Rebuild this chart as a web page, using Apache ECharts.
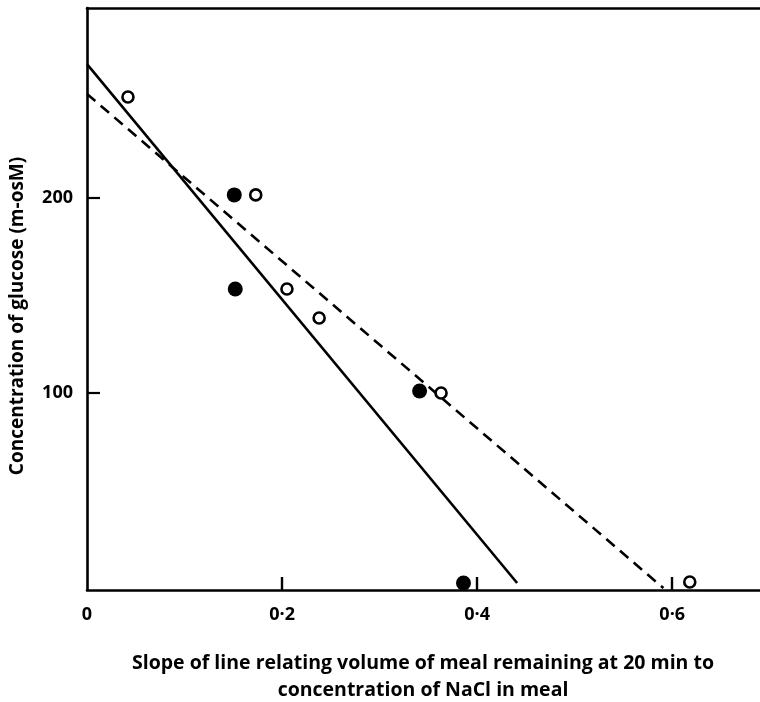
<!DOCTYPE html>
<html>
<head>
<meta charset="utf-8">
<script src="https://cdn.jsdelivr.net/npm/echarts@6/dist/echarts.min.js"></script>
<style>
html,body{margin:0;padding:0;background:#fff;}
#chart{width:760px;height:702px;}
</style>
</head>
<body>
<div id="chart"></div>
<script>
// Data
const filledPoints = [[0.151, 201.3], [0.152, 153.1], [0.341, 100.9], [0.386, 2.6]];
const openPoints = [[0.042, 251.4], [0.173, 201.3], [0.205, 153.1], [0.238, 138.3], [0.363, 99.9], [0.618, 3.1]];
const solidLine = [[0, 268.3], [0.441, 2.6]];
const dashedLine = [[0, 253], [0.591, 0]];
const xTicks = [0, 0.2, 0.4, 0.6];
const yTicks = [100, 200];
const xTitle1 = 'Slope of line relating volume of meal remaining at 20 min to';
const xTitle2 = 'concentration of NaCl in meal';
const yTitle = 'Concentration of glucose (m-osM)';

const FONT = '"Open Sans"';
const chart = echarts.init(document.getElementById('chart'));
const fmtX = v => {
  const hit = xTicks.find(t => Math.abs(t - v) < 1e-6);
  if (hit === undefined) return '';
  return hit === 0 ? '0' : String(hit).replace('.', '·');
};
const fmtY = v => yTicks.some(t => Math.abs(t - v) < 1e-6) ? String(v) : '';

chart.setOption({
  animation: false,
  backgroundColor: '#fff',
  grid: { left: 87, right: 0, top: 8, bottom: 112, containLabel: false },
  xAxis: [{
    type: 'value', min: 0, max: 0.69, interval: 0.2,
    axisLine: { show: true, onZero: false, lineStyle: { color: '#000', width: 2.6 } },
    axisTick: { show: true, inside: true, length: 13, lineStyle: { color: '#000', width: 2.4 },
      customValues: xTicks.slice(1) },
    axisLabel: { show: true, margin: 16, color: '#000', fontFamily: FONT, fontWeight: 'bold', fontSize: 18,
      formatter: fmtX, customValues: xTicks },
    splitLine: { show: false }
  }, {
    type: 'value', position: 'top', min: 0, max: 0.69,
    axisLine: { show: true, onZero: false, lineStyle: { color: '#000', width: 2.6 } },
    axisTick: { show: false }, axisLabel: { show: false }, splitLine: { show: false }
  }],
  yAxis: {
    type: 'value', min: -1, max: 297, interval: 100,
    axisLine: { show: true, onZero: false, lineStyle: { color: '#000', width: 2.6 } },
    axisTick: { show: true, inside: true, length: 13, lineStyle: { color: '#000', width: 2.2 },
      customValues: yTicks },
    axisLabel: { show: true, margin: 14, color: '#000', fontFamily: FONT, fontWeight: 'bold', fontSize: 18,
      formatter: fmtY, customValues: yTicks },
    splitLine: { show: false }
  },
  series: [
    { type: 'line', data: solidLine, symbol: 'none', lineStyle: { color: '#000', width: 2.6 }, z: 2 },
    { type: 'line', data: dashedLine, symbol: 'none', lineStyle: { color: '#000', width: 2.6, type: [11, 7] }, z: 2 },
    { type: 'scatter', data: filledPoints, symbol: 'circle', symbolSize: 15,
      itemStyle: { color: '#000', borderWidth: 0, opacity: 1 }, z: 3 },
    { type: 'scatter', data: openPoints, symbol: 'circle', symbolSize: 11,
      itemStyle: { color: '#fff', borderColor: '#000', borderWidth: 2.6, opacity: 1 }, z: 3 }
  ],
  graphic: [
    { type: 'text', x: 423, y: 663, style: { text: xTitle1, fill: '#000', font: 'bold 19.5px ' + FONT, textAlign: 'center', textVerticalAlign: 'middle' } },
    { type: 'text', x: 423, y: 690, style: { text: xTitle2, fill: '#000', font: 'bold 19.5px ' + FONT, textAlign: 'center', textVerticalAlign: 'middle' } },
    { type: 'text', x: 18, y: 316, rotation: Math.PI / 2, originX: 0, originY: 0,
      style: { text: yTitle, fill: '#000', font: 'bold 19px ' + FONT, textAlign: 'center', textVerticalAlign: 'middle' } }
  ]
});
</script>
</body>
</html>
